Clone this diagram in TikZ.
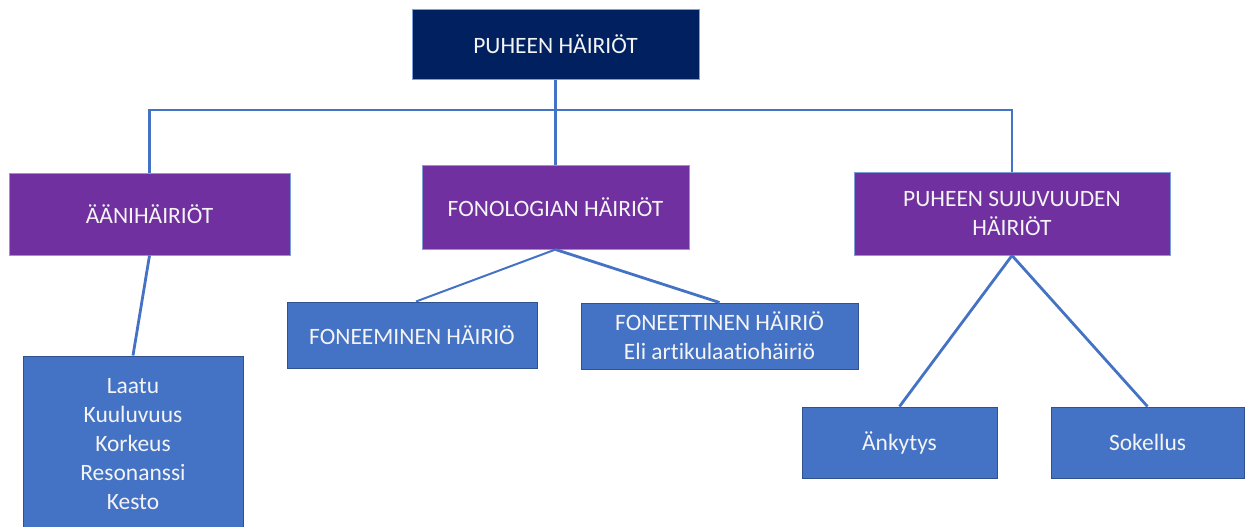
\documentclass[tikz,border=0pt]{standalone}
\usepackage{fontspec}
\setmainfont[Ligatures={NoCommon}]{Carlito}
\definecolor{navy}{HTML}{002060}
\definecolor{purp}{HTML}{7030A0}
\definecolor{boxblue}{HTML}{4472C4}
\definecolor{lineblue}{HTML}{4472C4}
\definecolor{lightedge}{HTML}{7F9FD8}
\definecolor{darkedge}{HTML}{2F528F}
\definecolor{txt}{HTML}{F4F4F4}
\begin{document}
\begin{tikzpicture}[x=0.75pt,y=-0.75pt,
  base/.style={rectangle, inner sep=0pt, text=txt, align=center,
    font=\fontsize{17.6pt}{21.9pt}\selectfont, line width=0.75pt},
  topbox/.style={base, fill=navy, draw=lightedge},
  midbox/.style={base, fill=purp, draw=lightedge},
  leafbox/.style={base, fill=boxblue, draw=darkedge},
  conn/.style={draw=lineblue, line width=2.1pt}]
\useasboundingbox (0,0) rectangle (1249,526);
\node[topbox, minimum width=215.25pt, minimum height=52.5pt] (top) at (555.5,44) {PUHEEN HÄIRIÖT};
\node[midbox, minimum width=210.75pt, minimum height=61.5pt] (aani) at (149.5,214) {ÄÄNIHÄIRIÖT};
\node[midbox, minimum width=200.25pt, minimum height=63pt] (fono) at (555.5,207) {FONOLOGIAN HÄIRIÖT};
\node[midbox, minimum width=237pt, minimum height=62.25pt] (suju) at (1012,213.5) {PUHEEN SUJUVUUDEN\\HÄIRIÖT};
\node[leafbox, minimum width=187.5pt, minimum height=49.5pt] (foneem) at (412,335) {FONEEMINEN HÄIRIÖ};
\node[leafbox, minimum width=207.75pt, minimum height=49.5pt] (fonet) at (719.5,336) {FONEETTINEN HÄIRIÖ\\Eli artikulaatiohäiriö};
\node[leafbox, minimum width=165pt, minimum height=132pt] (laatu) at (133,444) {Laatu\\Kuuluvuus\\Korkeus\\Resonanssi\\Kesto};
\node[leafbox, minimum width=146.25pt, minimum height=53.25pt] (ank) at (899.5,442.5) {Änkytys};
\node[leafbox, minimum width=144.75pt, minimum height=53.25pt] (sok) at (1147.5,442.5) {Sokellus};
\coordinate (j) at (555.5,110);
\draw[conn] (top.south) -- (fono.north);
\draw[conn] (aani.north) |- (j) -| (suju.north);
\draw[conn, line width=1.5pt] (fono.south) -- ([xshift=3pt]foneem.north);
\draw[conn] (fono.south) -- (fonet.north);
\draw[conn] (aani.south) -- (laatu.north);
\draw[conn] (suju.south) -- (ank.north);
\draw[conn] (suju.south) -- (sok.north);
\end{tikzpicture}
\end{document}
